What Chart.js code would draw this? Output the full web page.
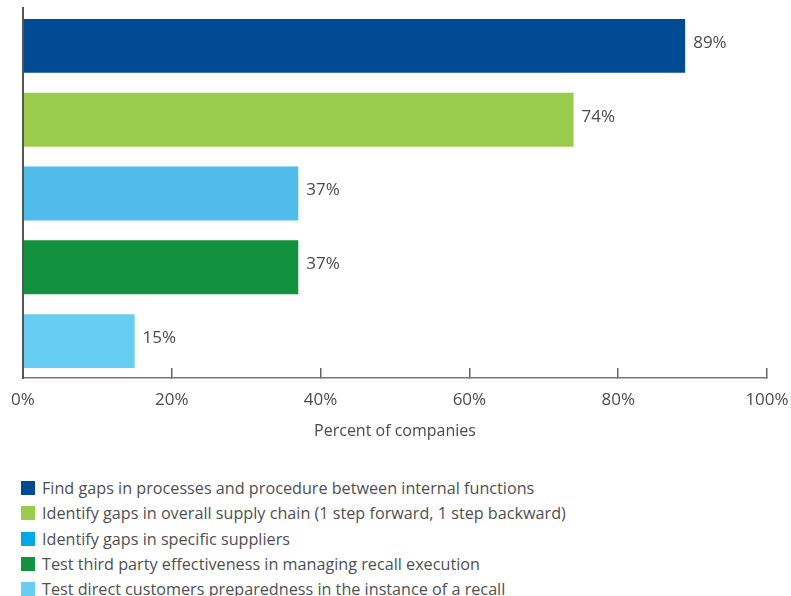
<!DOCTYPE html>
<html>
<head>
<meta charset="utf-8">
<script src="https://cdn.jsdelivr.net/npm/chart.js@4/dist/chart.umd.min.js"></script>
<style>
  html, body { margin: 0; padding: 0; background: #ffffff; }
  #wrap { position: relative; width: 791px; height: 596px; overflow: hidden; font-family: "Open Sans", sans-serif; }
  #chartBox { position: absolute; left: 0; top: 0; width: 791px; height: 441px; }
  #legend { position: absolute; left: 21px; top: 481px; margin: 0; padding: 0; list-style: none; }
  #legend li { display: flex; align-items: center; height: 14px; margin-bottom: 11.25px; font-size: 16.2px; color: #4f4f4f; white-space: nowrap; }
  #legend li span.sw { display: inline-block; width: 14px; height: 14px; margin-right: 7px; flex: 0 0 14px; }
</style>
</head>
<body>
<div id="wrap">
  <div id="chartBox"><canvas id="c"></canvas></div>
  <ul id="legend"></ul>
</div>
<script>
// Survey answers, one bar per purpose
const categories = [
  'Find gaps in processes and procedure between internal functions',
  'Identify gaps in overall supply chain (1 step forward, 1 step backward)',
  'Identify gaps in specific suppliers',
  'Test third party effectiveness in managing recall execution',
  'Test direct customers preparedness in the instance of a recall'
];
const values = [89, 74, 37, 37, 15];
const barColors = ['#004b93', '#9bcb4c', '#4fbcec', '#12923e', '#67cdf3'];
const legendColors = ['#004b93', '#9bcb4c', '#00a8e6', '#12923e', '#67cdf3'];
const xTicks = [0, 20, 40, 60, 80, 100];
const axisTitle = 'Percent of companies';

const textColor = '#4a4a4a';
const fontFamily = '"Open Sans", sans-serif';

// Value labels at the end of each bar
const valueLabels = {
  id: 'valueLabels',
  afterDatasetsDraw(chart) {
    const ctx = chart.ctx;
    const meta = chart.getDatasetMeta(0);
    ctx.save();
    ctx.font = '17px ' + fontFamily;
    ctx.fillStyle = textColor;
    ctx.textAlign = 'left';
    ctx.textBaseline = 'middle';
    meta.data.forEach((bar, i) => {
      ctx.fillText(values[i] + '%', bar.x + 8, bar.y - 3);
    });
    ctx.restore();
  }
};

// Vertical axis line, running a little past the top of the plot area
const leftAxisLine = {
  id: 'leftAxisLine',
  afterDraw(chart) {
    const { ctx, chartArea } = chart;
    ctx.save();
    ctx.strokeStyle = '#555555';
    ctx.lineWidth = 2;
    ctx.beginPath();
    ctx.moveTo(chartArea.left, chartArea.top - 2);
    ctx.lineTo(chartArea.left, chartArea.bottom + 1);
    ctx.stroke();
    ctx.restore();
  }
};

new Chart(document.getElementById('c'), {
  type: 'bar',
  data: {
    labels: categories,
    datasets: [{
      data: values,
      backgroundColor: barColors,
      borderWidth: 0,
      categoryPercentage: 1,
      barPercentage: 0.73
    }]
  },
  options: {
    indexAxis: 'y',
    responsive: true,
    maintainAspectRatio: false,
    animation: false,
    layout: { padding: { left: 0, right: 24, top: 9, bottom: 0 } },
    plugins: {
      legend: { display: false },
      tooltip: { enabled: false }
    },
    scales: {
      x: {
        min: 0,
        max: 100,
        afterBuildTicks(scale) { scale.ticks = xTicks.map(v => ({ value: v })); },
        ticks: {
          callback: v => v + '%',
          color: textColor,
          font: { family: fontFamily, size: 17 },
          padding: 22,
          maxRotation: 0
        },
        grid: { drawOnChartArea: false, tickLength: -10, color: '#666666', lineWidth: 1.5 },
        border: { display: true, color: '#777777', width: 1.5 },
        title: {
          display: true,
          text: axisTitle,
          color: textColor,
          font: { family: fontFamily, size: 16 },
          padding: { top: 4, bottom: 0 }
        },
        afterFit(scale) { scale.height = 63; scale.paddingLeft = 0; scale.paddingRight = 0; }
      },
      y: {
        ticks: { display: false },
        grid: { display: false },
        border: { display: false },
        afterFit(scale) { scale.width = 23; scale.paddingTop = 0; scale.paddingBottom = 0; }
      }
    }
  },
  plugins: [valueLabels, leftAxisLine]
});

// Legend below the chart
const legendEl = document.getElementById('legend');
categories.forEach((name, i) => {
  const li = document.createElement('li');
  const sw = document.createElement('span');
  sw.className = 'sw';
  sw.style.background = legendColors[i];
  li.appendChild(sw);
  li.appendChild(document.createTextNode(name));
  legendEl.appendChild(li);
});
</script>
</body>
</html>
